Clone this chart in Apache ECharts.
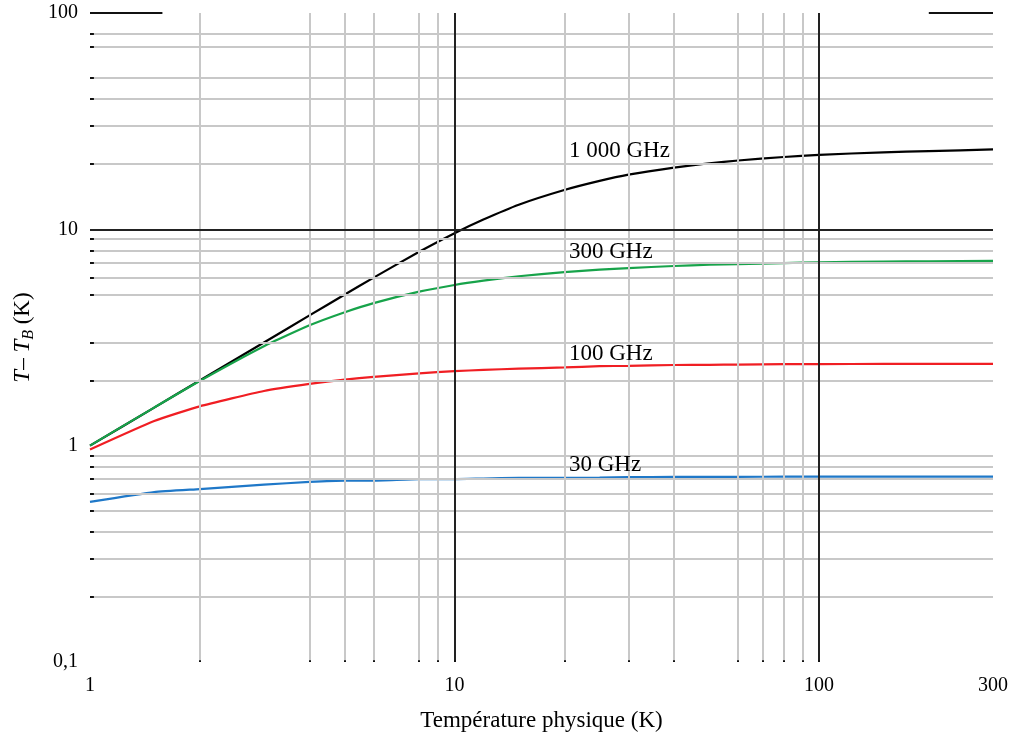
<!DOCTYPE html>
<html>
<head>
<meta charset="utf-8">
<script src="https://cdn.jsdelivr.net/npm/echarts@6/dist/echarts.min.js"></script>
<style>
  html, body { margin: 0; padding: 0; background: #fff; }
  #chart { width: 1013px; height: 742px; }
</style>
</head>
<body>
<div id="chart"></div>
<script>
// température physique (K)
const temps = [1, 1.5, 2, 3, 4, 5, 6, 8, 10, 12, 15, 20, 25, 30, 40, 50, 60, 80, 100, 150, 200, 300];
// T - T_B (K)
const ghz1000 = [1.0, 1.5, 2.0, 3.0, 4.0, 5.0, 5.98, 7.88, 9.6, 11.1, 13.0, 15.2, 16.75, 17.9, 19.3, 20.2, 20.8, 21.6, 22.1, 22.7, 23.0, 23.4];
const ghz300 = [1.0, 1.5, 1.99, 2.88, 3.6, 4.14, 4.56, 5.15, 5.53, 5.79, 6.07, 6.34, 6.51, 6.62, 6.77, 6.86, 6.9, 6.98, 7.04, 7.09, 7.12, 7.15];
const ghz100 = [0.96, 1.3, 1.52, 1.79, 1.93, 2.02, 2.08, 2.16, 2.21, 2.24, 2.27, 2.3, 2.33, 2.34, 2.36, 2.365, 2.37, 2.38, 2.38, 2.39, 2.39, 2.39];
const ghz30 = [0.55, 0.61, 0.63, 0.66, 0.68, 0.69, 0.69, 0.70, 0.70, 0.705, 0.71, 0.71, 0.712, 0.715, 0.717, 0.717, 0.718, 0.719, 0.72, 0.72, 0.72, 0.72];

const curveNames = ['1 000 GHz', '300 GHz', '100 GHz', '30 GHz'];
const curveLabelPos = [[20.6, 23.1], [20.6, 7.9], [20.6, 2.65], [20.6, 0.815]];

// lignes de grille (telles qu'elles figurent sur l'original)
const xMinorGrid = [2, 4, 5, 6, 8, 9, 20, 30, 40, 60, 70, 80, 90];
const xMajorGrid = [10, 100];
const yMinorGrid = [0.2, 0.3, 0.4, 0.5, 0.6, 0.7, 0.8, 0.9, 2, 3, 5, 6, 7, 8, 9, 20, 30, 40, 50, 70, 80];
const yMajorGrid = [10];

const serif = '"Liberation Serif", "DejaVu Serif", serif';
const colors = ['#000000', '#17a34a', '#f01e23', '#1f78c8'];

const chart = echarts.init(document.getElementById('chart'), null, { renderer: 'canvas' });

function pairs(list) {
  return list.map(function (p) { return [{ coord: p[0] }, { coord: p[1] }]; });
}

const gridSeries = [
  {
    type: 'line', data: [], z: 1, silent: true,
    markLine: {
      silent: true, symbol: 'none', animation: false, label: { show: false },
      lineStyle: { color: '#c8c8c8', width: 2, type: 'solid' },
      data: xMinorGrid.map(function (v) { return { xAxis: v }; })
        .concat(yMinorGrid.map(function (v) { return { yAxis: v }; }))
    }
  },
  {
    type: 'line', data: [], z: 2, silent: true,
    markLine: {
      silent: true, symbol: 'none', animation: false, label: { show: false },
      lineStyle: { color: '#222', width: 2, type: 'solid' },
      data: xMajorGrid.map(function (v) { return { xAxis: v }; })
        .concat(yMajorGrid.map(function (v) { return { yAxis: v }; }))
    }
  },
  {
    // petits traits de graduation + segments du haut
    type: 'line', data: [], z: 2, silent: true,
    markLine: {
      silent: true, symbol: 'none', animation: false, label: { show: false },
      lineStyle: { color: '#111', width: 2, type: 'solid' },
      data: pairs(
        yMinorGrid.map(function (v) { return [[1, v], [1.025, v]]; })
          .concat(xMinorGrid.concat(xMajorGrid).map(function (v) { return [[v, 0.1], [v, 0.102]]; }))
          .concat([[[1, 100], [1.58, 100]], [[200, 100], [300, 100]]])
      )
    }
  }
];

const curves = [ghz1000, ghz300, ghz100, ghz30].map(function (vals, i) {
  return {
    name: curveNames[i],
    type: 'line',
    z: 3,
    smooth: 0.15,
    showSymbol: false,
    symbol: 'none',
    lineStyle: { color: colors[i], width: 2.2 },
    data: temps.map(function (t, k) { return [t, vals[k]]; }),
    markPoint: {
      symbol: 'circle', symbolSize: 0, animation: false, silent: true,
      label: {
        show: true, position: 'right', distance: 0,
        color: '#000', fontFamily: serif, fontSize: 23,
        formatter: curveNames[i]
      },
      data: [{ coord: curveLabelPos[i] }]
    }
  };
});

const option = {
  animation: false,
  backgroundColor: '#fff',
  grid: { left: 90, right: 20, top: 13, bottom: 80, containLabel: false, outerBoundsMode: 'none' },
  xAxis: {
    type: 'log', logBase: 10, min: 1, max: 300,
    name: 'Température physique (K)',
    nameLocation: 'middle', nameGap: 47,
    nameTextStyle: { fontFamily: serif, fontSize: 23, color: '#000' },
    axisLine: { show: false },
    axisTick: { show: false },
    splitLine: { show: false },
    minorSplitLine: { show: false },
    axisLabel: {
      fontFamily: serif, fontSize: 20, color: '#000', margin: 14,
      showMinLabel: true, showMaxLabel: true,
      formatter: function (v) { return String(Math.round(v)); }
    }
  },
  yAxis: {
    type: 'log', logBase: 10, min: 0.1, max: 100,
    name: '{i|T}{n|– }{i|T}{s|B}{n| (K)}',
    nameLocation: 'middle', nameGap: 53,
    nameTextStyle: {
      fontFamily: serif, fontSize: 23, color: '#000',
      rich: {
        i: { fontFamily: serif, fontSize: 23, fontStyle: 'italic', color: '#000' },
        n: { fontFamily: serif, fontSize: 23, color: '#000' },
        s: { fontFamily: serif, fontSize: 16, fontStyle: 'italic', color: '#000', padding: [12, 0, 0, 0] }
      }
    },
    axisLine: { show: false },
    axisTick: { show: false },
    splitLine: { show: false },
    axisLabel: {
      fontFamily: serif, fontSize: 20, color: '#000', margin: 12,
      formatter: function (v) { return String(v).replace('.', ','); }
    }
  },
  series: gridSeries.concat(curves)
};

chart.setOption(option);
</script>
</body>
</html>
